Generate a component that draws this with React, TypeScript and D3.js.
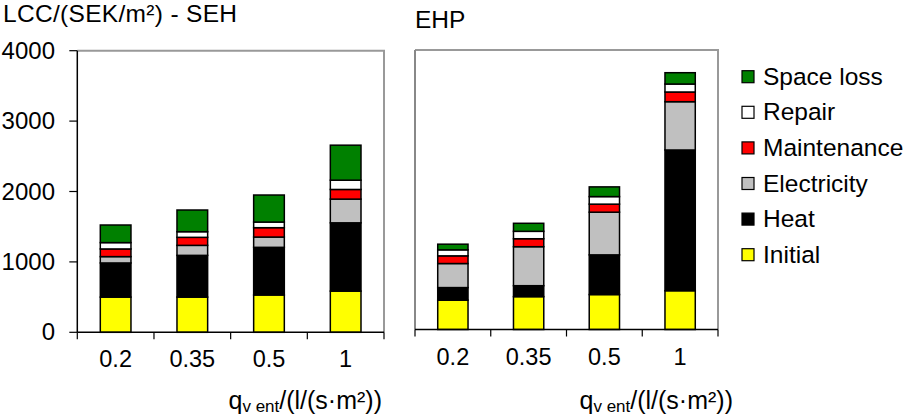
import React from "react";
import * as d3 from "d3";

const categories = ["0.2", "0.35", "0.5", "1"];
const seriesNames = ["Initial", "Heat", "Electricity", "Maintenance", "Repair", "Space loss"];
const seriesColors = ["#ffff00", "#000000", "#c0c0c0", "#ff0000", "#ffffff", "#008000"];

// SEH panel values (SEK/m²)
const initialSEH = [500, 500, 530, 585];
const heatSEH = [485, 593, 677, 970];
const electricitySEH = [90, 142, 146, 337];
const maintenanceSEH = [109, 114, 133, 137];
const repairSEH = [90, 80, 80, 132];
const spaceLossSEH = [250, 308, 384, 497];

// EHP panel values (SEK/m²)
const initialEHP = [420, 470, 500, 555];
const heatEHP = [180, 157, 568, 2014];
const electricityEHP = [344, 558, 611, 691];
const maintenanceEHP = [110, 114, 115, 139];
const repairEHP = [86, 106, 108, 114];
const spaceLossEHP = [81, 115, 139, 162];

const yTicks = [0, 1000, 2000, 3000, 4000];

const FONT = "'Liberation Sans', Arial, sans-serif";

function buildRows(cols: number[][]) {
  return categories.map((c, i) => {
    const row: Record<string, any> = { cat: c };
    seriesNames.forEach((s, k) => (row[s] = cols[k][i]));
    return row;
  });
}

type PanelProps = {
  cols: number[][];
  x0: number;
  x1: number;
  yTop: number;
  yBottom: number;
  showY: boolean;
  title: string;
  titleX: number;
  titleY: number;
  titleLen?: number;
  axisTitleEnd: number;
};

function Panel(p: PanelProps) {
  const x = d3.scaleBand<string>().domain(categories).range([p.x0, p.x1]).padding(0);
  const y = d3.scaleLinear().domain([0, 4000]).range([p.yBottom, p.yTop]);
  const stack = d3.stack<any>().keys(seriesNames);
  const layers = stack(buildRows(p.cols));
  const bw = x.bandwidth() * 0.4;
  const boundaries = [...categories.map((c) => x(c) as number), p.x1];
  return (
    <g>
      <text
        x={p.titleX}
        y={p.titleY}
        fontSize={24.5}
        fontFamily={FONT}
        fill="#000"
        textLength={p.titleLen}
        lengthAdjust={p.titleLen ? "spacing" : undefined}
      >
        {p.title}
      </text>
      {/* frame top/right */}
      <path
        d={`M${p.x0},${p.yTop}H${p.x1}V${p.yBottom}`}
        fill="none"
        stroke="#999"
        strokeWidth={2}
      />
      {!p.showY && (
        <line x1={p.x0} x2={p.x0} y1={p.yTop} y2={p.yBottom} stroke="#888" strokeWidth={2} />
      )}
      {layers.map((layer, k) => (
        <g key={k}>
          {layer.map((d, i) => {
            const cx = (x(categories[i]) as number) + x.bandwidth() / 2;
            return (
              <rect
                key={i}
                x={cx - bw / 2}
                y={y(d[1])}
                width={bw}
                height={y(d[0]) - y(d[1])}
                fill={seriesColors[k]}
                stroke="#000"
                strokeWidth={1.5}
              />
            );
          })}
        </g>
      ))}
      {/* bottom axis */}
      <line x1={p.x0} x2={p.x1} y1={p.yBottom} y2={p.yBottom} stroke="#000" strokeWidth={1.5} />
      {boundaries.map((bx, i) => (
        <line key={i} x1={bx} x2={bx} y1={p.yBottom} y2={p.yBottom + 7} stroke="#000" strokeWidth={1.2} />
      ))}
      {categories.map((c) => (
        <text
          key={c}
          x={(x(c) as number) + x.bandwidth() / 2}
          y={p.yBottom + 35}
          textAnchor="middle"
          fontSize={23.5}
          fontFamily={FONT}
          fill="#000"
        >
          {c}
        </text>
      ))}
      {p.showY && (
        <g>
          <line x1={p.x0} x2={p.x0} y1={p.yTop} y2={p.yBottom} stroke="#000" strokeWidth={1.5} />
          {yTicks.map((t) => (
            <g key={t}>
              <line x1={p.x0 - 8} x2={p.x0} y1={y(t)} y2={y(t)} stroke="#000" strokeWidth={1.2} />
              <text
                x={55}
                y={y(t) + 8}
                textAnchor="end"
                fontSize={24}
                fontFamily={FONT}
                fill="#000"
              >
                {t}
              </text>
            </g>
          ))}
        </g>
      )}
      <text x={p.axisTitleEnd} y={409} textAnchor="end" fontSize={25} fontFamily={FONT} fill="#000">
        q
        <tspan fontSize={17} dy={3}>
          v ent
        </tspan>
        <tspan dy={-3}>/(l/(s·m²))</tspan>
      </text>
    </g>
  );
}

export default function App() {
  const legendOrder = [5, 4, 3, 2, 1, 0];
  return (
    <svg
      width={905}
      height={418}
      style={{ position: "absolute", left: 0, top: 0, background: "#fff" }}
    >
      <rect width={905} height={418} fill="#fff" />
      <Panel
        cols={[initialSEH, heatSEH, electricitySEH, maintenanceSEH, repairSEH, spaceLossSEH]}
        x0={77.3}
        x1={384}
        yTop={50.7}
        yBottom={332.3}
        showY={true}
        title="LCC/(SEK/m²) - SEH"
        titleX={3}
        titleY={22}
        titleLen={234}
        axisTitleEnd={382}
      />
      <Panel
        cols={[initialEHP, heatEHP, electricityEHP, maintenanceEHP, repairEHP, spaceLossEHP]}
        x0={415}
        x1={718}
        yTop={50}
        yBottom={329.5}
        showY={false}
        title="EHP"
        titleX={415}
        titleY={28}
        axisTitleEnd={733}
      />
      {legendOrder.map((k, i) => {
        const cy = 76.7 + i * 35.6;
        return (
          <g key={k}>
            <rect x={742} y={cy - 6} width={12} height={12} fill={seriesColors[k]} stroke="#000" strokeWidth={1.2} />
            <text x={763} y={cy + 8} fontSize={24.5} fontFamily={FONT} fill="#000">
              {seriesNames[k]}
            </text>
          </g>
        );
      })}
    </svg>
  );
}
